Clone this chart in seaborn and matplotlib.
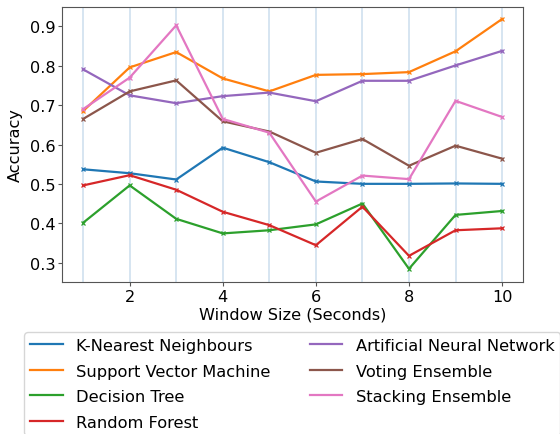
import numpy as np
import pandas as pd
import matplotlib
matplotlib.use("Agg")
import matplotlib.pyplot as plt
import seaborn as sns

# window sizes (seconds)
window = [1, 2, 3, 4, 5, 6, 7, 8, 9, 10]

knn = [0.537, 0.527, 0.511, 0.592, 0.555, 0.506, 0.500, 0.500, 0.501, 0.500]
svm = [0.685, 0.796, 0.835, 0.768, 0.735, 0.777, 0.779, 0.784, 0.837, 0.919]
dt = [0.401, 0.496, 0.411, 0.374, 0.382, 0.397, 0.450, 0.284, 0.421, 0.431]
rf = [0.496, 0.522, 0.485, 0.429, 0.395, 0.344, 0.442, 0.317, 0.382, 0.387]
ann = [0.791, 0.725, 0.705, 0.723, 0.732, 0.710, 0.762, 0.762, 0.801, 0.838]
vote = [0.665, 0.735, 0.763, 0.659, 0.633, 0.579, 0.614, 0.546, 0.597, 0.564]
stack = [0.690, 0.770, 0.903, 0.665, 0.630, 0.455, 0.521, 0.512, 0.711, 0.670]

models = ["K-Nearest Neighbours", "Support Vector Machine", "Decision Tree",
          "Random Forest", "Artificial Neural Network", "Voting Ensemble",
          "Stacking Ensemble"]
scores = [knn, svm, dt, rf, ann, vote, stack]

rows = []
for name, vals in zip(models, scores):
    for w, v in zip(window, vals):
        rows.append({"Window": w, "Accuracy": v, "Model": name})
df = pd.DataFrame(rows)

plt.rcParams["axes.edgecolor"] = "#555555"
plt.rcParams["font.family"] = "DejaVu Sans"

fig = plt.figure(figsize=(5.6, 4.35), dpi=100)
ax = fig.add_axes([0.111, 0.349, 0.823, 0.633])

for w in window:
    ax.axvline(w, color="#d3e3f0", linewidth=1.3, zorder=0)

sns.lineplot(data=df, x="Window", y="Accuracy", hue="Model",
             palette=sns.color_palette("tab10", 7), marker="x",
             markersize=3, linewidth=1.6, ax=ax)
for ln in ax.lines:
    if ln.get_marker() == "x":
        ln.set_markeredgecolor(ln.get_color())
        ln.set_markeredgewidth(0.9)

ax.set_xlabel("Window Size (Seconds)", fontsize=11.6, labelpad=2)
ax.set_ylabel("Accuracy", fontsize=11.6, labelpad=5)
ax.set_xticks([2, 4, 6, 8, 10])
ax.set_yticks([0.3, 0.4, 0.5, 0.6, 0.7, 0.8, 0.9])
ax.tick_params(labelsize=11.6, length=3, pad=2, color="#555555")
ax.set_ylim(0.25, 0.95)
ax.set_xlim(0.55, 10.45)

handles, labels = ax.get_legend_handles_labels()
for h in handles:
    h.set_marker("")
ax.legend(handles, labels, ncol=2, fontsize=11.7, loc="upper left",
          bbox_to_anchor=(-0.082, -0.182), frameon=True,
          handlelength=2.0, handletextpad=0.85, columnspacing=2.4,
          labelspacing=0.65, borderpad=0.35, borderaxespad=0)

fig.savefig("out.png", dpi=100)
